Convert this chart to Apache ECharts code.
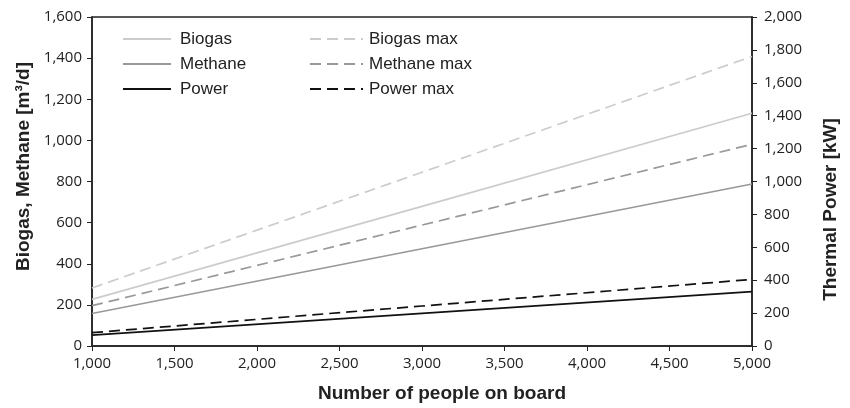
<!DOCTYPE html>
<html><head><meta charset="utf-8">
<script src="https://cdn.jsdelivr.net/npm/echarts@6/dist/echarts.min.js"></script>
<style>html,body{margin:0;padding:0;background:#fff}#c{width:850px;height:408px}</style>
</head><body><div id="c"></div>
<script>
var people = [1000, 3000, 5000];
var biogas = [227, 679, 1132];
var biogasMax = [282, 845, 1408];
var methane = [158, 473, 788];
var methaneMax = [196, 588, 981];
var power = [66, 198, 330];
var powerMax = [81, 243, 405];

function pts(v){ return people.map(function(p,i){ return [p, v[i]]; }); }
var tickFont = {fontFamily:'Open Sans', fontSize:15, color:'#222'};
var titleFont = {fontFamily:'Liberation Sans', fontWeight:'bold', fontSize:19, color:'#222'};
var fmt = function(v){ return v.toLocaleString('en-US'); };
function ser(name, data, color, dashed, yIdx){
  return {name:name, type:'line', data:pts(data), yAxisIndex:yIdx, symbol:'none',
    lineStyle:{color:color, width:1.7, type: dashed ? [11,6] : 'solid'}, itemStyle:{color:color}, animation:false};
}
var legText = {fontFamily:'Liberation Sans', fontSize:17, color:'#222', lineHeight:20};
var chart = echarts.init(document.getElementById('c'));
chart.setOption({
  animation:false,
  grid:{left:92, right:98, top:17, bottom:60, show:true, borderColor:'#222', borderWidth:1.5},
  legend:[
    {data:['Biogas','Methane','Power'], orient:'vertical', left:117, top:24, itemWidth:48, itemHeight:14, itemGap:5,
     itemStyle:{opacity:0}, textStyle:Object.assign({padding:[0,0,0,4]}, legText)},
    {data:['Biogas max','Methane max','Power max'], orient:'vertical', left:304, top:24, itemWidth:53, itemHeight:14, itemGap:5,
     itemStyle:{opacity:0}, textStyle:Object.assign({padding:[0,0,0,1]}, legText)}
  ],
  xAxis:{type:'value', min:1000, max:5000, interval:500,
    name:'Number of people on board', nameLocation:'middle', nameGap:38,
    nameTextStyle:Object.assign({padding:[0,0,0,40]}, titleFont),
    axisLine:{lineStyle:{color:'#222', width:1.5}}, axisTick:{length:5, lineStyle:{color:'#222'}},
    splitLine:{show:false}, axisLabel:Object.assign({formatter:fmt, margin:10}, tickFont)},
  yAxis:[
    {type:'value', min:0, max:1600, interval:200, position:'left',
     name:'Biogas, Methane [m³/d]', nameLocation:'middle', nameGap:59, nameRotate:90,
     nameTextStyle:Object.assign({padding:[0,0,0,30]}, titleFont),
     axisLine:{show:true, lineStyle:{color:'#222', width:1.5}}, axisTick:{show:true, length:5, lineStyle:{color:'#222'}},
     splitLine:{show:false}, axisLabel:Object.assign({formatter:fmt, margin:10}, tickFont)},
    {type:'value', min:0, max:2000, interval:200, position:'right',
     name:'Thermal Power [kW]', nameLocation:'middle', nameGap:69, nameRotate:90,
     nameTextStyle:Object.assign({padding:[0,56,0,0]}, titleFont),
     axisLine:{show:true, lineStyle:{color:'#222', width:1.5}}, axisTick:{show:true, length:5, lineStyle:{color:'#222'}},
     splitLine:{show:false}, axisLabel:Object.assign({formatter:fmt, margin:12}, tickFont)}
  ],
  series:[
    ser('Biogas', biogas, '#cccccc', false, 0),
    ser('Methane', methane, '#999999', false, 0),
    ser('Power', power, '#111111', false, 1),
    ser('Biogas max', biogasMax, '#cccccc', true, 0),
    ser('Methane max', methaneMax, '#999999', true, 0),
    ser('Power max', powerMax, '#111111', true, 1)
  ]
});
</script></body></html>
